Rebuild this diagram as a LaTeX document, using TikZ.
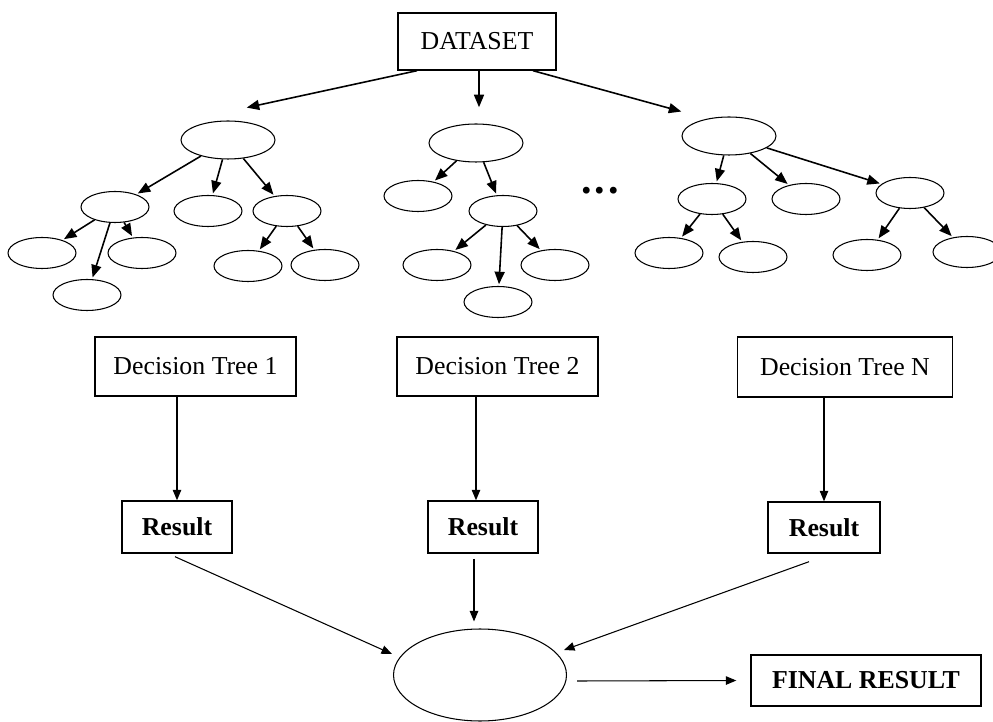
\documentclass[tikz,border=0pt]{standalone}
\usepackage{fontspec}
\setmainfont{Liberation Serif}
\usetikzlibrary{arrows.meta, calc, shapes.geometric, positioning}

\begin{document}
\begin{tikzpicture}[x=0.02cm, y=-0.02cm,
  box/.style={draw, line width=0.8pt, inner sep=0pt, font=\fontsize{14.7}{17}\selectfont},
  leaf/.style={draw, ellipse, line width=0.6pt, inner sep=0pt, minimum width=1.36cm, minimum height=0.62cm},
  root/.style={leaf, minimum width=1.88cm, minimum height=0.76cm},
  arr/.style={-{Triangle[length=2.5mm, width=2mm]}, line width=0.9pt, shorten >=1pt},
  thinarr/.style={-{Triangle[length=2.1mm, width=1.7mm]}, line width=0.6pt}]
\useasboundingbox (0,0) rectangle (993,722);

% Dataset on top
\node[box, minimum width=3.16cm, minimum height=1.14cm] (data) at (477,41.5) {DATASET};

% Tree 1
\node[root] (t1r) at (228,140) {};
\node[leaf] (t1a) at (115,207) {};
\node[leaf] (t1b) at (208,211) {};
\node[leaf] (t1c) at (287,211) {};
\node[leaf] (t1a1) at (42,253) {};
\node[leaf] (t1a2) at (87,295) {};
\node[leaf] (t1a3) at (142,253) {};
\node[leaf] (t1c1) at (248,266) {};
\node[leaf] (t1c2) at (325,265) {};
\foreach \a/\b in {t1r/t1a, t1r/t1b, t1r/t1c, t1a/t1a1, t1a/t1a2, t1a/t1a3, t1c/t1c1, t1c/t1c2}
  \draw[arr] (\a) -- (\b);

% Tree 2
\node[root] (t2r) at (476,143) {};
\node[leaf] (t2a) at (418,196) {};
\node[leaf] (t2b) at (503,211) {};
\node[leaf] (t2b1) at (437,265) {};
\node[leaf] (t2b2) at (498,302) {};
\node[leaf] (t2b3) at (555,265) {};
\foreach \a/\b in {t2r/t2a, t2r/t2b, t2b/t2b1, t2b/t2b2, t2b/t2b3}
  \draw[arr] (\a) -- (\b);

% dots between trees
\node[font=\fontsize{24}{26}\selectfont\bfseries, inner sep=0pt] (dots) at (600,191) {.\kern1.6pt.\kern1.6pt.};

% Tree N
\node[root] (t3r) at (729,136) {};
\node[leaf] (t3a) at (712,199) {};
\node[leaf] (t3b) at (806,199) {};
\node[leaf] (t3c) at (910,193) {};
\node[leaf] (t3a1) at (669,253) {};
\node[leaf] (t3a2) at (753,257) {};
\node[leaf] (t3c1) at (867,255) {};
\node[leaf] (t3c2) at (967,252) {};
\foreach \a/\b in {t3r/t3a, t3r/t3b, t3r/t3c, t3a/t3a1, t3a/t3a2, t3c/t3c1, t3c/t3c2}
  \draw[arr] (\a) -- (\b);

% Dataset to the trees
\coordinate (in1) at (245,108);
\coordinate (in2) at (479,109);
\coordinate (in3) at (683,112);
\draw[arr] ($(data.south)+(-60,0)$) -- (in1);
\draw[arr] ($(data.south)+(2,0)$) -- (in2);
\draw[arr] ($(data.south)+(56,0)$) -- (in3);

% Decision trees and results
\node[box, minimum width=4.02cm, minimum height=1.18cm] (dt1) at (195.5,366.5) {Decision Tree 1};
\node[box, minimum width=4.02cm, minimum height=1.18cm] (dt2) at (497.5,366.5) {Decision Tree 2};
\node[box, minimum width=4.3cm, minimum height=1.2cm] (dtn) at (845,367) {Decision Tree N};
\node[box, minimum width=2.2cm, minimum height=1.04cm, font=\fontsize{14.7}{17}\selectfont\bfseries] (res1) at (177,527) {Result};
\node[box, minimum width=2.2cm, minimum height=1.04cm, font=\fontsize{14.7}{17}\selectfont\bfseries] (res2) at (483,527) {Result};
\node[box, minimum width=2.24cm, minimum height=1.02cm, font=\fontsize{14.7}{17}\selectfont\bfseries] (res3) at (824,527.5) {Result};

\draw[thinarr] (dt1.south -| res1.north) -- (res1.north);
\draw[thinarr] (dt2.south -| 476,0) -- (res2.north -| 476,0);
\draw[thinarr] (dtn.south -| res3.north) -- (res3.north);

% Voting and final result
\node[draw, ellipse, line width=0.6pt, minimum width=3.46cm, minimum height=1.84cm] (vote) at (480,675) {};
\node[box, minimum width=4.6cm, minimum height=1.02cm, font=\fontsize{14.7}{17}\selectfont\bfseries] (final) at (866,680.5) {FINAL RESULT};

\coordinate (v1) at (392,654);
\coordinate (v3) at (564,650);
\draw[thinarr] ($(res1.south)+(-2,3)$) -- (v1);
\draw[thinarr, shorten <=3pt, shorten >=4pt] (res2.south -| 474,0) -- (vote.north -| 474,0);
\draw[thinarr] ($(res3.south)+(-15,8)$) -- (v3);
\draw[thinarr] ($(vote.east)+(10,6)$) -- ($(final.west)+(-14,0)$);
\end{tikzpicture}
\end{document}
